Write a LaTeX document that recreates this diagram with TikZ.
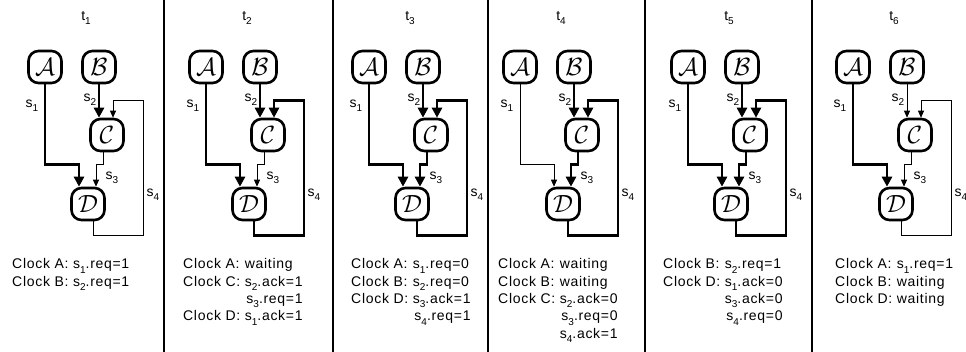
\documentclass[tikz,border=0pt]{standalone}
\usepackage{fontspec}
\setmainfont{Liberation Sans}[LetterSpace=5]
\usetikzlibrary{arrows.meta}

\newcommand\ix[1]{\raisebox{-0.3em}{\fontsize{10}{10}\selectfont #1}}

\begin{document}
\begin{tikzpicture}[x=1pt,y=-1pt,
    every node/.style={font=\fontsize{14}{17.3}\selectfont},
    unit/.style={draw,line width=2.6pt,rounded corners=10pt,minimum width=33pt,
      minimum height=32pt,inner sep=0pt,font=\fontsize{23}{23}\selectfont},
    sighi/.style={line width=2.8pt,-{Triangle[width=10pt,length=10pt]}},
    siglo/.style={line width=0.8pt,-{Triangle[width=6pt,length=7pt]}},
    lbl/.style={inner sep=0pt},
    clocks/.style={anchor=base west,inner sep=0pt}]

  \useasboundingbox (0,0) rectangle (966,352);

  % panel separators
  \foreach \sx in {164,333,488,645,812}
    \draw[line width=1.4pt] (\sx,0) -- (\sx,352);

  % one snapshot of the four clocked units per time step
  \foreach \k/\ax/\one/\two/\three/\four in {
      1/45/sighi/sighi/siglo/siglo,
      2/206/sighi/sighi/siglo/sighi,
      3/369/sighi/sighi/sighi/sighi,
      4/520/siglo/sighi/sighi/sighi,
      5/688/sighi/sighi/sighi/sighi,
      6/853/sighi/siglo/siglo/siglo}{
    \node (t\k) at (\ax+41,18) {t\ix{\k}};
    \node[unit] (A\k) at (\ax,67) {$\mathcal{A}$};
    \node[unit] (B\k) at (\ax+54,67) {$\mathcal{B}$};
    \node[unit] (C\k) at (\ax+62,135) {$\mathcal{C}$};
    \node[unit] (D\k) at (\ax+43,204) {$\mathcal{D}$};
    % signals s1..s4
    \draw[\one] (A\k.south) |- ([xshift=-9pt,yshift=22pt]D\k.north)
      -- ([xshift=-9pt]D\k.north);
    \draw[\two] (B\k.south) -- (B\k.south |- C\k.north);
    \draw[\three] ([xshift=-4pt]C\k.south) |- ([xshift=8pt,yshift=22pt]D\k.north)
      -- ([xshift=8pt]D\k.north);
    \draw[\four] ([xshift=5pt]D\k.south) -- ([xshift=5pt,yshift=-14pt]D\k.south)
      -| ([xshift=36pt,yshift=17pt]C\k.north) -| ([xshift=6pt]C\k.north);
    \node[lbl] (sa\k) at (\ax-13,106) {s\ix{1}};
    \node[lbl] (sb\k) at (\ax+45,100) {s\ix{2}};
    \node[lbl] (sc\k) at (\ax+67,178) {s\ix{3}};
    \node[lbl] (sd\k) at (\ax+108,195) {s\ix{4}};
  }

  % what each clock does at that step
  \node[clocks] (k1) at (12,269) {\begin{tabular}[t]{@{}l@{\ }l@{}}
    Clock A: & s\ix{1}.req=1\\
    Clock B: & s\ix{2}.req=1\end{tabular}};
  \node[clocks] (k2) at (183,269) {\begin{tabular}[t]{@{}l@{\ }l@{}}
    Clock A: & waiting\\
    Clock C: & s\ix{2}.ack=1\\
             & \hfill s\ix{3}.req=1\\
    Clock D: & s\ix{1}.ack=1\end{tabular}};
  \node[clocks] (k3) at (351,269) {\begin{tabular}[t]{@{}l@{\ }l@{}}
    Clock A: & s\ix{1}.req=0\\
    Clock B: & s\ix{2}.req=0\\
    Clock D: & s\ix{3}.ack=1\\
             & \hfill s\ix{4}.req=1\end{tabular}};
  \node[clocks] (k4) at (498,269) {\begin{tabular}[t]{@{}l@{\ }l@{}}
    Clock A: & waiting\\
    Clock B: & waiting\\
    Clock C: & s\ix{2}.ack=0\\
             & \hfill s\ix{3}.req=0\\
             & \hfill s\ix{4}.ack=1\end{tabular}};
  \node[clocks] (k5) at (663,269) {\begin{tabular}[t]{@{}l@{\ }l@{}}
    Clock B: & s\ix{2}.req=1\\
    Clock D: & s\ix{1}.ack=0\\
             & \hfill s\ix{3}.ack=0\\
             & \hfill s\ix{4}.req=0\end{tabular}};
  \node[clocks] (k6) at (835,269) {\begin{tabular}[t]{@{}l@{\ }l@{}}
    Clock A: & s\ix{1}.req=1\\
    Clock B: & waiting\\
    Clock D: & waiting\end{tabular}};
\end{tikzpicture}
\end{document}
